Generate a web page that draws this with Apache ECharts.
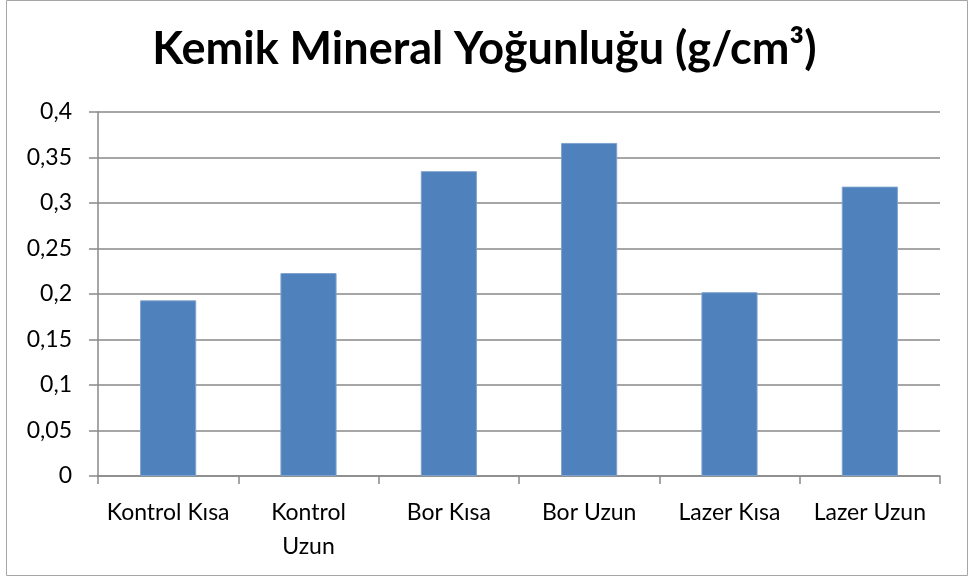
<!DOCTYPE html>
<html>
<head>
<meta charset="utf-8">
<script src="https://cdn.jsdelivr.net/npm/echarts@6/dist/echarts.min.js"></script>
<style>
  html, body { margin: 0; padding: 0; background: #fff; }
  #chart { width: 969px; height: 578px; }
</style>
</head>
<body>
<div id="chart"></div>
<script>
// Bone mineral density per group
const categories = ['Kontrol Kısa', 'Kontrol\nUzun', 'Bor Kısa', 'Bor Uzun', 'Lazer Kısa', 'Lazer Uzun'];
const density = [0.193, 0.223, 0.335, 0.366, 0.202, 0.318];
const titleText = 'Kemik Mineral Yoğunluğu (g/cm³)';

const FONT = 'Lato, "Liberation Sans", sans-serif';
const GRID_COLOR = '#898989';

const chart = echarts.init(document.getElementById('chart'), null, { renderer: 'canvas' });

chart.setOption({
  backgroundColor: '#fff',
  animation: false,
  title: {
    text: titleText,
    left: 'center',
    top: 22,
    textStyle: { fontFamily: FONT, fontWeight: 'bold', fontSize: 45, color: '#000' }
  },
  graphic: [{
    type: 'rect',
    shape: { x: 6.5, y: 0.5, width: 961, height: 575 },
    style: { fill: 'none', stroke: '#a6a6a6', lineWidth: 1 },
    silent: true
  }],
  grid: { left: 98, right: 29, top: 112, bottom: 102 },
  xAxis: {
    type: 'category',
    data: categories,
    axisLine: { lineStyle: { color: GRID_COLOR, width: 1.5 } },
    axisTick: { show: true, length: 8, alignWithLabel: false, lineStyle: { color: GRID_COLOR, width: 1.5 } },
    axisLabel: { interval: 0, margin: 20, color: '#000', fontFamily: FONT, fontSize: 23, lineHeight: 34 }
  },
  yAxis: {
    type: 'value',
    min: 0,
    max: 0.4,
    interval: 0.05,
    axisLine: { show: true, lineStyle: { color: GRID_COLOR, width: 1.5 } },
    axisTick: { show: true, length: 9, lineStyle: { color: GRID_COLOR, width: 1.5 } },
    splitLine: { lineStyle: { color: GRID_COLOR, width: 1.5 } },
    axisLabel: {
      margin: 26, color: '#000', fontFamily: FONT, fontSize: 23,
      formatter: v => String(+v.toFixed(2)).replace('.', ',')
    }
  },
  series: [{
    type: 'bar',
    data: density,
    barWidth: '40%',
    itemStyle: { color: '#4f81bd', borderColor: '#7fa2cf', borderWidth: 1 }
  }]
});
</script>
</body>
</html>
